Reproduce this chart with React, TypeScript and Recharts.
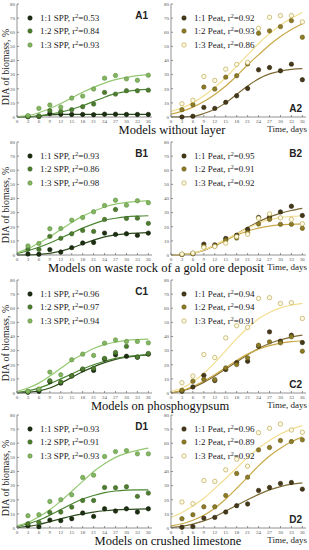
import React from 'react';
import { ComposedChart, Line, Scatter, XAxis, YAxis } from 'recharts';

const pointDays = [3, 6, 9, 12, 15, 18, 21, 24, 27, 30, 33, 36];
const curveDays = [0, 3, 6, 9, 12, 15, 18, 21, 24, 27, 30, 33, 36];
const xTicks = [0, 3, 6, 9, 12, 15, 18, 21, 24, 27, 30, 33, 36];
const yTicks = [0, 10, 20, 30, 40, 50, 60, 70, 80];
const ratios = ['1:1', '1:2', '1:3'];

// A1
const a1Spp11Pts = [0.2, 0.3, 2.5, 2, 1.8, 1.8, 1.6, 2, 2, 1.8, 1.8, 1.8];
const a1Spp12Pts = [0.3, 0.8, 4.5, 4, 5.2, 7.3, 9.2, 17.4, 16.2, 18.6, 18.6, 19];
const a1Spp13Pts = [1, 6.1, 8.5, 7, 13.4, 14.8, 19.8, 27.5, 29.4, 27, 26, 29.6];
const a1Spp11Curve = [0, 0.2, 0.8, 1.5, 1.8, 1.8, 1.8, 1.8, 1.8, 1.8, 1.8, 1.8, 1.8];
const a1Spp12Curve = [0, 0.1, 0.5, 2, 3.5, 5.5, 8, 11, 14, 16.5, 18, 19, 19.5];
const a1Spp13Curve = [0.3, 1, 3, 6, 9.5, 13.5, 17.5, 21, 24, 26.5, 28, 29.3, 30];
const a1R2 = ['0.53', '0.84', '0.93'];

// A2
const a2Peat11Pts = [0, 0.5, 6.8, 6.1, 10.4, 15, 20.2, 33.4, 35, 32.7, 37.4, 26.4];
const a2Peat12Pts = [5.2, 8.7, 21.2, 19.8, 28.2, 29.2, 37.6, 59.3, 61, 64, 68.2, 56.5];
const a2Peat13Pts = [9.4, 11.8, 28.7, 25.9, 33.9, 37.2, 38.6, 62.8, 70.6, 71.8, 71.8, 67.3];
const a2Peat11Curve = [0, 0.1, 0.5, 2.5, 5.5, 10, 16, 22, 27, 30.5, 32.5, 33.7, 34.2];
const a2Peat12Curve = [2, 4, 7, 11, 16, 22, 29, 37, 44, 51, 57, 62, 66];
const a2Peat13Curve = [4, 6.5, 10, 15, 21, 28, 36, 44, 52, 59, 65, 70, 74];
const a2R2 = ['0.92', '0.93', '0.86'];

// B1
const b1Spp11Pts = [0.7, 0.5, 3.8, 2.1, 5.2, 8.5, 8.9, 15.5, 14.6, 15, 13.9, 15.5];
const b1Spp12Pts = [4.2, 4, 13.2, 11.8, 15, 17.4, 16.7, 25.2, 32.2, 25.9, 26.1, 22.4];
const b1Spp13Pts = [6.4, 8.2, 18.6, 18.8, 24.7, 26.6, 30.6, 35, 38.8, 35.3, 38.4, 37];
const b1Spp11Curve = [0, 0.1, 0.4, 1.2, 2.8, 5, 7.8, 10.5, 12.8, 14.2, 15, 15.5, 15.8];
const b1Spp12Curve = [1, 3, 5.5, 8.5, 12, 15.5, 19, 22, 24.5, 26, 27, 27.5, 27.8];
const b1Spp13Curve = [1.5, 4.5, 8.5, 13, 18, 23, 27.5, 31, 34, 36, 37.2, 38, 38.5];
const b1R2 = ['0.93', '0.86', '0.98'];

// B2
const b2Peat11Pts = [0.4, 1.2, 7.7, 7.2, 11.7, 14, 18.2, 26.6, 26.8, 30.5, 34.5, 28];
const b2Peat12Pts = [0.5, 0.8, 6, 6.5, 10.5, 12, 15.8, 22, 25.2, 21.7, 21.7, 18.9];
const b2Peat13Pts = [0.7, 1.4, 5.4, 6, 8.4, 13, 14.7, 26.1, 29.1, 26.3, 25.2, 22.1];
const b2Peat11Curve = [0, 0.3, 1.2, 3.2, 6.5, 10.5, 15, 19.5, 23.5, 27, 29.5, 31.5, 33];
const b2Peat12Curve = [0, 0.3, 1.3, 3.5, 7, 10.5, 14, 17, 19, 20.5, 21.3, 21.7, 22];
const b2Peat13Curve = [0, 0.3, 1.2, 3.5, 7, 11, 15, 19, 22.5, 25, 26.5, 27.3, 27.8];
const b2R2 = ['0.95', '0.91', '0.92'];

// C1
const c1Spp11Pts = [0.5, 1.2, 8, 7, 12, 16.5, 16, 24, 27, 26, 25.3, 27.5];
const c1Spp12Pts = [1, 2.5, 8.7, 7.8, 12.2, 17, 17.5, 24.5, 28.7, 33, 25.5, 28];
const c1Spp13Pts = [1.2, 2.8, 14.8, 12.9, 23.5, 27.5, 26.6, 35.3, 37.6, 36.5, 36.5, 35.5];
const c1Spp11Curve = [0, 0.5, 1.5, 3.5, 7, 11, 15, 18.5, 21.5, 23.8, 25.3, 26.3, 27];
const c1Spp12Curve = [0.5, 1.5, 3.5, 6.5, 10, 13.5, 17, 20, 22.5, 24.5, 25.8, 26.6, 27.2];
const c1Spp13Curve = [1, 3.5, 7, 12, 17.5, 23, 27.5, 31.5, 34.3, 36, 37.2, 37.8, 38.2];
const c1R2 = ['0.96', '0.97', '0.94'];

// C2
const c2Peat11Pts = [1.2, 4.3, 12.5, 8.8, 16.6, 21.5, 22.5, 33.1, 43.3, 36.7, 40.9, 35.7];
const c2Peat12Pts = [1.9, 8.3, 9.7, 9.5, 17.8, 20.1, 24.9, 33.8, 36.2, 35.5, 39.8, 29.6];
const c2Peat13Pts = [7.3, 12, 27.2, 25.1, 39, 47.6, 46.4, 67, 67.5, 63.4, 63.9, 52.8];
const c2Peat11Curve = [0, 1.5, 4, 7.5, 12, 17, 22, 27, 31.5, 35, 37.7, 39.6, 41];
const c2Peat12Curve = [0, 1.7, 4.5, 8.5, 13, 18, 23, 27.5, 31, 33.5, 35.3, 36.4, 37];
const c2Peat13Curve = [1, 3.5, 8, 14, 21.5, 30, 38.5, 46, 52.5, 57, 60.3, 62.3, 63.5];
const c2R2 = ['0.94', '0.94', '0.91'];

// D1
const d1Spp11Pts = [1.6, 0.9, 5.6, 5.2, 6.6, 10.6, 8.2, 13.6, 12, 13.6, 11.3, 13.6];
const d1Spp12Pts = [3, 4, 11, 11.3, 14.8, 19.5, 19.5, 28.7, 28.5, 29.2, 22.4, 24.7];
const d1Spp13Pts = [8.7, 9.4, 18.8, 20, 23.5, 35.8, 37.4, 50.6, 54.1, 54.8, 52.5, 52.5];
const d1Spp11Curve = [0.3, 1.2, 2.5, 4.5, 6.5, 8.5, 10, 11.3, 12.2, 12.8, 13.2, 13.4, 13.5];
const d1Spp12Curve = [1, 3, 5.5, 9, 13, 17, 20.5, 23, 25, 26.2, 26.8, 27, 27];
const d1Spp13Curve = [1.5, 4, 8, 13, 19, 26, 33, 40, 45.5, 50, 53, 55, 56.5];
const d1R2 = ['0.93', '0.91', '0.93'];

// D2
const d2Peat11Pts = [0.5, 1, 7, 7.5, 11.3, 15.8, 17, 26.6, 28.7, 31.5, 32.2, 27.5];
const d2Peat12Pts = [6.6, 9.4, 15, 15, 23, 38.6, 36, 55.3, 57, 61.9, 61.2, 62.4];
const d2Peat13Pts = [18.4, 17.2, 33.6, 33, 41.2, 48.7, 43.8, 67.5, 70.6, 73.6, 69.4, 67.8];
const d2Peat11Curve = [0.3, 1.2, 2.8, 5, 8, 12, 16, 20, 23.8, 27, 29.3, 31, 32];
const d2Peat12Curve = [1.5, 3, 5.5, 9, 14, 20.5, 28, 36, 44, 51, 56.5, 61, 64.5];
const d2Peat13Curve = [7.5, 11, 15.5, 21, 28, 35, 42.5, 50, 56.5, 62, 66.5, 70, 72.5];
const d2R2 = ['0.96', '0.89', '0.92'];

const titles = [
  'Models without layer',
  'Models on waste rock of a gold ore deposit',
  'Models on phosphogypsum',
  'Models on crushed limestone',
];

const sppColors = [
  { point: '#1c2f10', stroke: '#101c08', line: '#2e4d1c' },
  { point: '#4e7d30', stroke: '#3a6222', line: '#4a8630' },
  { point: '#84b560', stroke: '#5d9140', line: '#93c871' },
];
const peatColors = [
  { point: '#46391a', stroke: '#2c240c', line: '#7d6a34' },
  { point: '#8e7c26', stroke: '#65571a', line: '#c8a845' },
  { point: '#fffbe6', stroke: '#b09a3a', line: '#f3de90' },
];

const toPts = (vals: number[]) => vals.map((y, i) => ({ x: pointDays[i], y }));
const toCurve = (vals: number[]) => vals.map((y, i) => ({ x: curveDays[i], y }));

type Cfg = {
  id: string;
  col: number;
  row: number;
  kind: string;
  pts: number[][];
  curves: number[][];
  r2: string[];
  labelBottom: boolean;
};

const panels: Cfg[] = [
  { id: 'A1', col: 0, row: 0, kind: 'SPP', pts: [a1Spp11Pts, a1Spp12Pts, a1Spp13Pts], curves: [a1Spp11Curve, a1Spp12Curve, a1Spp13Curve], r2: a1R2, labelBottom: false },
  { id: 'A2', col: 1, row: 0, kind: 'Peat', pts: [a2Peat11Pts, a2Peat12Pts, a2Peat13Pts], curves: [a2Peat11Curve, a2Peat12Curve, a2Peat13Curve], r2: a2R2, labelBottom: true },
  { id: 'B1', col: 0, row: 1, kind: 'SPP', pts: [b1Spp11Pts, b1Spp12Pts, b1Spp13Pts], curves: [b1Spp11Curve, b1Spp12Curve, b1Spp13Curve], r2: b1R2, labelBottom: false },
  { id: 'B2', col: 1, row: 1, kind: 'Peat', pts: [b2Peat11Pts, b2Peat12Pts, b2Peat13Pts], curves: [b2Peat11Curve, b2Peat12Curve, b2Peat13Curve], r2: b2R2, labelBottom: false },
  { id: 'C1', col: 0, row: 2, kind: 'SPP', pts: [c1Spp11Pts, c1Spp12Pts, c1Spp13Pts], curves: [c1Spp11Curve, c1Spp12Curve, c1Spp13Curve], r2: c1R2, labelBottom: false },
  { id: 'C2', col: 1, row: 2, kind: 'Peat', pts: [c2Peat11Pts, c2Peat12Pts, c2Peat13Pts], curves: [c2Peat11Curve, c2Peat12Curve, c2Peat13Curve], r2: c2R2, labelBottom: true },
  { id: 'D1', col: 0, row: 3, kind: 'SPP', pts: [d1Spp11Pts, d1Spp12Pts, d1Spp13Pts], curves: [d1Spp11Curve, d1Spp12Curve, d1Spp13Curve], r2: d1R2, labelBottom: false },
  { id: 'D2', col: 1, row: 3, kind: 'Peat', pts: [d2Peat11Pts, d2Peat12Pts, d2Peat13Pts], curves: [d2Peat11Curve, d2Peat12Curve, d2Peat13Curve], r2: d2R2, labelBottom: true },
];

const rowPlotTops = [4, 142, 280, 415];
const PLOT_H = 113;
const CHART_H = 126;
const colLeft = [0, 155];
const colWidth = [155, 154];
const colYAxisW = [17, 16];
const titleCenters = [172, 156, 160, 168];

const axisColor = '#777';
const tickStyle = { fontSize: 5, fill: '#555', fontFamily: 'Liberation Serif' };

function Dot(props: any, c: { point: string; stroke: string }) {
  if (props.cx == null || props.cy == null) return <g />;
  return <circle cx={props.cx} cy={props.cy} r={2.2} fill={c.point} stroke={c.stroke} strokeWidth={0.6} />;
}

function Panel({ cfg }: { cfg: Cfg }) {
  const left = colLeft[cfg.col];
  const width = colWidth[cfg.col];
  const yw = colYAxisW[cfg.col];
  const plotTop = rowPlotTops[cfg.row];
  const colors = cfg.kind === 'SPP' ? sppColors : peatColors;
  const plotRightInset = 3;
  return (
    <div style={{ position: 'absolute', left, top: plotTop - 4, width, height: CHART_H }}>
      <ComposedChart width={width} height={CHART_H} margin={{ top: 4, right: plotRightInset, left: 0, bottom: 0 }}>
        <XAxis xAxisId="b" type="number" dataKey="x" domain={[0, 37]} ticks={xTicks} interval={0}
          height={9} tickSize={-2} tickMargin={4} tick={tickStyle} stroke={axisColor} strokeWidth={0.8} />
        <XAxis xAxisId="t" orientation="top" type="number" dataKey="x" domain={[0, 37]} ticks={xTicks}
          height={0} tickSize={-2} tick={false} stroke={axisColor} strokeWidth={0.8} />
        <YAxis yAxisId="l" type="number" dataKey="y" domain={[0, 80]} ticks={yTicks} interval={0}
          width={yw} tickSize={-2} tickMargin={4} tick={tickStyle} stroke={axisColor} strokeWidth={0.8} />
        <YAxis yAxisId="r" orientation="right" type="number" dataKey="y" domain={[0, 80]} ticks={yTicks}
          width={0} tickSize={-2} tick={false} stroke={axisColor} strokeWidth={0.8} />
        {cfg.curves.map((cv, i) => (
          <Line key={'l' + i} xAxisId="b" yAxisId="l" data={toCurve(cv)} dataKey="y" type="monotone"
            stroke={colors[i].line} strokeWidth={1.2} dot={false} activeDot={false} isAnimationActive={false} />
        ))}
        {cfg.pts.map((pv, i) => (
          <Scatter key={'s' + i} xAxisId="b" yAxisId="l" data={toPts(pv)} dataKey="y"
            shape={(p: any) => Dot(p, colors[i])} isAnimationActive={false} />
        ))}
      </ComposedChart>
      {/* legend */}
      <div style={{ position: 'absolute', left: yw + 8, top: 4 + 7, fontFamily: 'Liberation Serif', fontSize: 9, color: '#222' }}>
        {ratios.map((r, i) => (
          <div key={r} style={{ display: 'flex', alignItems: 'center', height: 13.5, whiteSpace: 'nowrap' }}>
            <svg width={10} height={8} style={{ marginRight: 5 }}>
              <circle cx={5} cy={4} r={2.2} fill={colors[i].point} stroke={colors[i].stroke} strokeWidth={0.6} />
            </svg>
            <span>
              {r} {cfg.kind}, r<sup style={{ fontSize: 6, verticalAlign: 'top', lineHeight: '6px' }}>2</sup>={cfg.r2[i]}
            </span>
          </div>
        ))}
      </div>
      <div style={{
        position: 'absolute', right: plotRightInset + 4, top: cfg.labelBottom ? 4 + PLOT_H - 13 : 4 + 7,
        fontFamily: 'Liberation Sans', fontWeight: 'bold', fontSize: 10, lineHeight: '10px', color: '#222',
      }}>{cfg.id}</div>
    </div>
  );
}

export default function App() {
  return (
    <div style={{ position: 'absolute', left: 0, top: 0, width: 309, height: 550, background: '#fff', overflow: 'hidden', fontFamily: 'Liberation Serif' }}>
      {panels.map((p) => <Panel key={p.id} cfg={p} />)}
      {rowPlotTops.map((t, r) => (
        <React.Fragment key={r}>
          <div style={{
            position: 'absolute', left: 6, top: t + 63, width: 110, height: 12, lineHeight: '12px',
            fontSize: 10, textAlign: 'center', color: '#222', whiteSpace: 'nowrap',
            transform: 'translate(-50%, -50%) rotate(-90deg)',
          }}>DIA of biomass, %</div>
          <div style={{
            position: 'absolute', left: titleCenters[r], top: t + PLOT_H + 13, transform: 'translate(-50%, -50%)',
            fontSize: 12.5, lineHeight: '11px', color: '#111', whiteSpace: 'nowrap',
          }}>{titles[r]}</div>
          <div style={{
            position: 'absolute', right: 2, top: t + PLOT_H + 12, transform: 'translateY(-50%)',
            fontSize: 9, lineHeight: '10px', color: '#222', whiteSpace: 'nowrap',
          }}>Time, days</div>
        </React.Fragment>
      ))}
    </div>
  );
}
